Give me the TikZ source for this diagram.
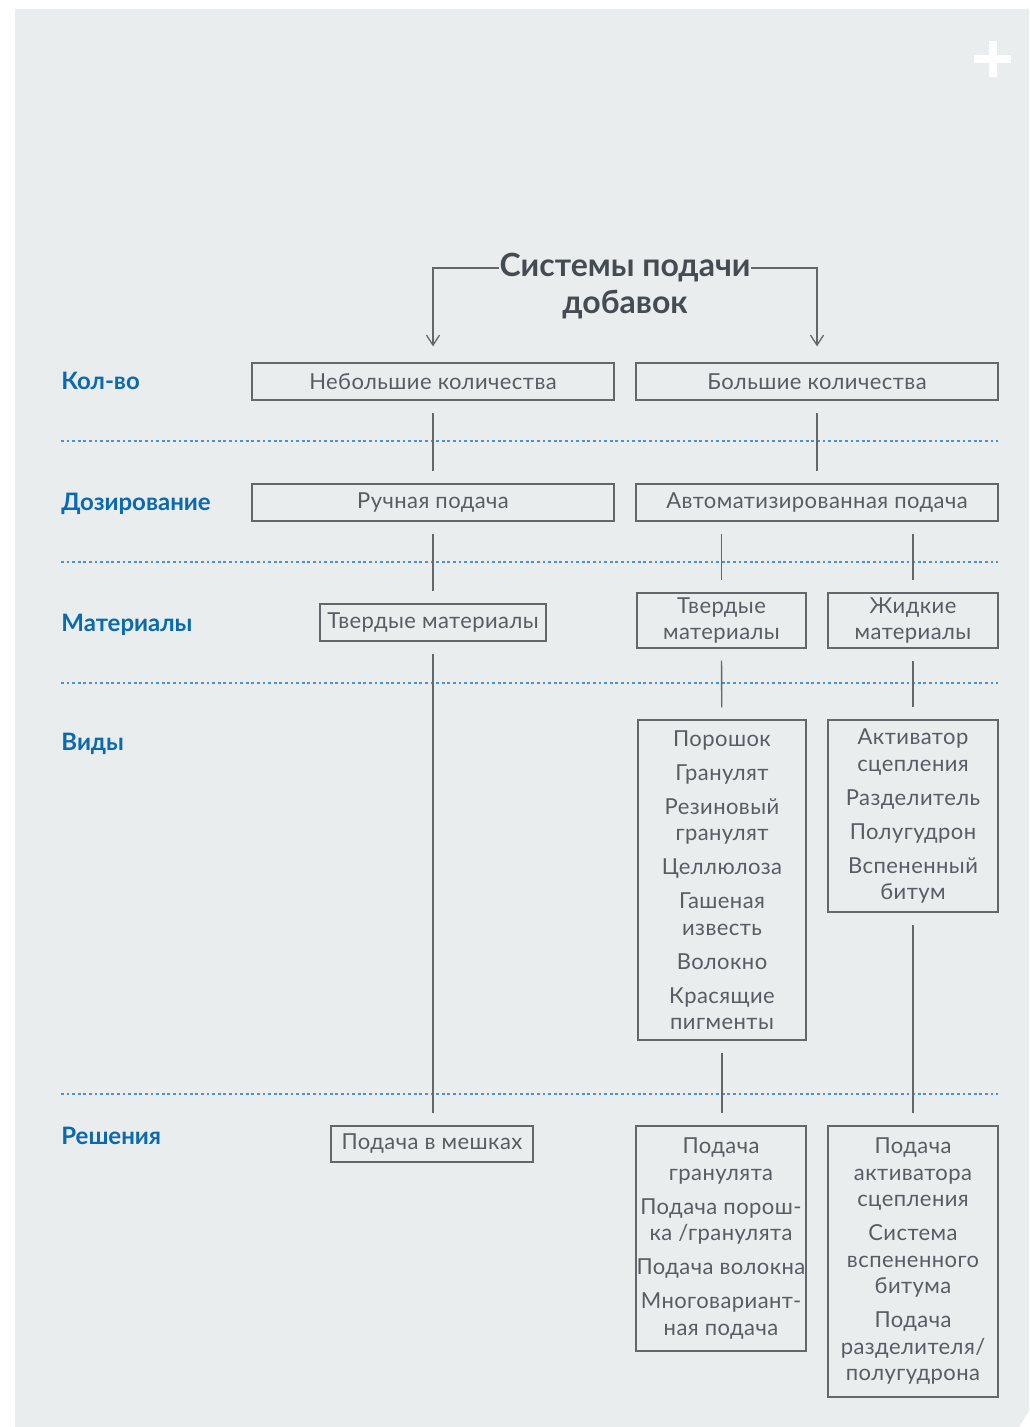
\documentclass[tikz,border=0pt]{standalone}
\usepackage{fontspec}
\setmainfont{Lato}[LetterSpace=2]
\newfontfamily\headfont{Lato}
\usetikzlibrary{arrows.meta}

\definecolor{panel}{HTML}{E9EDEE}
\definecolor{txtgray}{HTML}{575D62}
\definecolor{linegray}{HTML}{62676B}
\definecolor{rowblue}{HTML}{0A69B0}
\definecolor{dotblue}{HTML}{4A92D2}
\definecolor{titlegray}{HTML}{444C52}

\tikzset{
  box/.style={draw=linegray, line width=0.65pt, text=txtgray, inner sep=0pt,
    align=center, font=\fontsize{11}{13.25}\selectfont},
  rowlabel/.style={anchor=base west, inner sep=0pt, text=rowblue,
    font=\headfont\bfseries\fontsize{12}{14}\selectfont},
  title/.style={inner sep=0pt, text=titlegray, font=\headfont\bfseries\fontsize{16}{19}\selectfont},
  link/.style={draw=linegray, line width=0.65pt, shorten <=6pt, shorten >=6pt},
  sep/.style={draw=dotblue, line width=0.6pt, dash pattern=on 1.4pt off 1.4pt},
}

\begin{document}
\begin{tikzpicture}[x=0.5pt, y=-0.5pt]
\useasboundingbox (0,0) rectangle (1029,1427);
% background panel and plus sign
\fill[panel] (15,9) -- (1029,9) -- (1029,1411) -- (1019,1427) -- (15,1427) -- cycle;
\fill[white] (988.5,41) rectangle (996.5,77);
\fill[white] (974,55) rectangle (1011,63);

% row separators
\foreach \y in {441,562,683,1094}
  \draw[sep] (61,\y) -- (998,\y);

% row labels
\node[rowlabel] (lqty) at (61,390) {Кол-во};
\node[rowlabel] (ldose) at (61,510) {Дозирование};
\node[rowlabel] (lmat) at (61,631) {Материалы};
\node[rowlabel] (lkind) at (61,750) {Виды};
\node[rowlabel] (lsol) at (61,1144) {Решения};

% title
\node[title] (ttl) at (625,268) {Системы подачи};
\node[title] (ttl2) at (625,305) {добавок};

% quantity
\node[box, minimum width=181pt, minimum height=18.5pt] (small) at (433,381.5) {Небольшие количества};
\node[box, minimum width=181pt, minimum height=18.5pt] (large) at (817,381.5) {Большие количества};

% dosing
\node[box, minimum width=181pt, minimum height=18.5pt] (manual) at (433,502.5) {Ручная подача};
\node[box, minimum width=181pt, minimum height=18.5pt] (auto) at (817,502.5) {Автоматизированная подача};

% materials
\node[box, minimum width=113pt, minimum height=18.5pt] (solidm) at (433,622.5) {Твердые материалы};
\node[box, minimum width=84.5pt, minimum height=27.5pt] (solida) at (721.5,620.5) {Твердые\\материалы};
\node[box, minimum width=85pt, minimum height=27.5pt] (liquida) at (913,620.5) {Жидкие\\материалы};

% kinds
\node[box, minimum width=84pt, minimum height=160pt] (solidk) at (722,880)
  {Порошок\\[3.75pt]Гранулят\\[3.75pt]Резиновый\\гранулят\\[3.75pt]Целлюлоза\\[3.75pt]Гашеная\\известь\\[3.75pt]Волокно\\[3.75pt]Красящие\\пигменты};
\node[box, minimum width=85pt, minimum height=96pt] (liquidk) at (913,816)
  {Активатор\\сцепления\\[3.75pt]Разделитель\\[3.75pt]Полугудрон\\[3.75pt]Вспененный\\битум};

% solutions
\node[box, minimum width=101pt, minimum height=18pt] (bags) at (432,1144) {Подача в мешках};
\node[box, minimum width=85pt, minimum height=112.5pt] (solids) at (721,1238.5)
  {Подача\\гранулята\\[3.75pt]Подача порош-\\ка /гранулята\\[3.75pt]Подача волокна\\[3.75pt]Многовариант-\\ная подача};
\node[box, minimum width=85pt, minimum height=135.5pt] (liquids) at (913,1261.5)
  {Подача\\активатора\\сцепления\\[3.75pt]Система\\вспененного\\битума\\[3.75pt]Подача\\разделителя/\\полугудрона};

% connectors
\draw[link, shorten <=0pt, shorten >=8pt, -{Straight Barb[length=5pt,width=6.5pt]}] (ttl.west) -| (small.north);
\draw[link, shorten <=0pt, shorten >=8pt, -{Straight Barb[length=5pt,width=6.5pt]}] (ttl.east) -| (large.north);
\draw[link] (small) -- (manual);
\draw[link] (large) -- (auto);
\draw[link] (manual) -- (solidm);
\draw[link] (solida.north |- auto.south) -- (solida.north);
\draw[link] (liquida.north |- auto.south) -- (liquida.north);
\draw[link] (solidm) -- (bags.north -| solidm.south);
\draw[link] (solida) -- (solidk);
\draw[link] (liquida) -- (liquidk);
\draw[link] (solidk.south) -- (solidk.south |- solids.north);
\draw[link] (liquidk.south) -- (liquidk.south |- liquids.north);
\end{tikzpicture}
\end{document}
